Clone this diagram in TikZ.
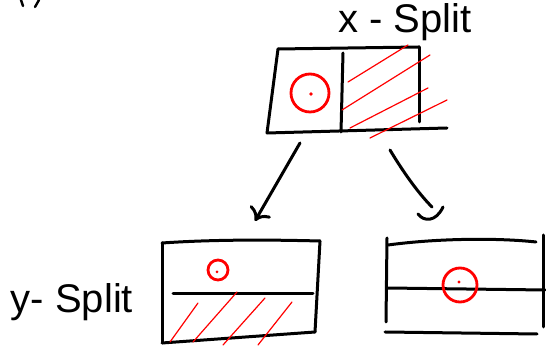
\documentclass[tikz,border=0pt]{standalone}
\usepackage{fontspec}
\setmainfont{Liberation Sans}
\usetikzlibrary{arrows.meta}
\tikzset{
  pen/.style={line width=1.5pt, line cap=round, line join=round},
  hatch/.style={red, line width=0.6pt, line cap=round},
  redring/.style={red, line width=1.4pt},
}
\begin{document}
\begin{tikzpicture}[x=0.5pt, y=-0.5pt]
			\useasboundingbox (0,0) rectangle (546,346);

			% Stray label strokes at the top edge
			\draw[pen, line width=1.2pt] (21,0) -- (23,6);
			\draw[pen, line width=1.2pt] (39,0) -- (35,7);

			% Label for the x-split
			\node[font=\fontsize{20}{20}\selectfont] (xlabel) at (405,22) {x - Split};

			% Box for the x-split
			\draw[pen] (278,49) -- (419,47);
			\draw[pen] (278,49) -- (267,133);
			\draw[pen] (267,133) -- (447,128);
			\draw[pen] (419,47) -- (419,122);
			\draw[pen] (343,53) -- (341,132);
			\draw[redring] (310,93) circle (19);
			\fill[red] (311,94) circle (1.8);
			\draw[hatch] (348,82) -- (408,45);
			\draw[hatch] (342,110) -- (430,55);
			\draw[hatch] (350,128) -- (428,88);
			\draw[hatch] (370,138) -- (447,100);

			% Ends of the two arrows
			\coordinate (la) at (300,143);
			\coordinate (lb) at (255,221);
			\coordinate (ra) at (390,150);
			\coordinate (rb) at (432,207);

			% Arrows
			\draw[pen, -{To[length=6pt, width=12pt]}] (la) -- (lb);
			\draw[pen] (ra) .. controls (405,175) and (420,195) .. (rb);
			\draw[pen] (418,214) .. controls (424,222) and (436,222) .. (443,207);

			% Box for the y-split
			\draw[pen] (162,243) .. controls (220,239) and (280,240) .. (320,241);
			\draw[pen] (162,243) -- (162,343);
			\draw[pen] (320,241) -- (315,332);
			\draw[pen] (162,343) -- (315,332);
			\draw[pen] (173,294) -- (313,294);
			\draw[redring] (218,270) circle (10);
			\fill[red] (217,272) circle (1.5);
			\draw[hatch] (198,303) -- (170,342);
			\draw[hatch] (237,292) -- (193,342);
			\draw[hatch] (265,298) -- (223,345);
			\draw[hatch] (292,302) -- (258,345);

			% Label for the y-split
			\node[font=\fontsize{20}{20}\selectfont] (ylabel) at (72,302) {y- Split};

			% Box for the second half
			\draw[pen] (388,245) .. controls (440,238) and (500,238) .. (536,242);
			\draw[pen] (387,238) -- (386,322);
			\draw[pen] (543,235) -- (543,327);
			\draw[pen] (385,332) -- (537,334);
			\draw[pen] (387,288) -- (545,290);
			\draw[redring] (460,285) circle (17);
			\fill[red] (459,282) circle (1.6);
\end{tikzpicture}
\end{document}
